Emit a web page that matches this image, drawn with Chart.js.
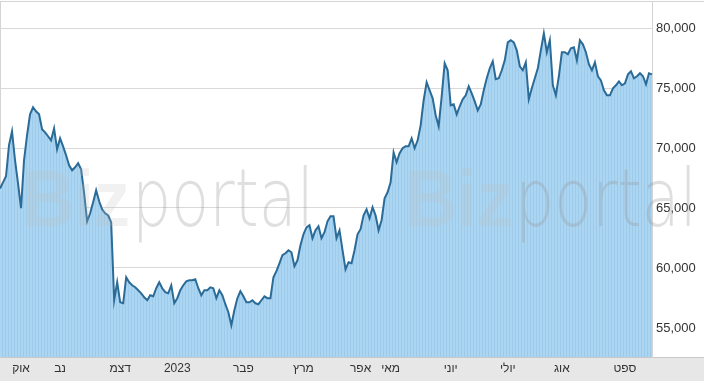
<!DOCTYPE html>
<html>
<head>
<meta charset="utf-8">
<script src="https://cdn.jsdelivr.net/npm/chart.js@4"></script>
<style>
  html, body { margin: 0; padding: 0; background: #fff; }
  #wrap { width: 704px; height: 384px; position: relative; }
</style>
</head>
<body>
<div id="wrap"><canvas id="chart" width="704" height="384"></canvas></div>
<script>
// daily closes, Oct 2022 - Sep 2023
const prices = [
  66620, 67140, 67640, 70230, 71390, 68980, 67060, 64980, 68980, 71060,
  72810, 73390, 73060, 72810, 71560, 71310, 70980, 70640, 71640, 69890,
  70810, 70140, 69390, 68560, 68140, 68390, 68730, 68230, 66230, 63890,
  64560, 65480, 66480, 65560, 64890, 64560, 64390, 63810, 57310, 58810,
  57140, 57060, 59230, 58810, 58560, 58390, 58140, 57890, 57560, 57310,
  57730, 57640, 58310, 58810, 58310, 57980, 57890, 58560, 57060, 57480,
  58140, 58560, 58890, 58980, 58980, 59060, 58310, 57730, 58140, 58140,
  58390, 58310, 57480, 58140, 57730, 56980, 56310, 55230, 56480, 57480,
  58060, 57640, 57140, 57140, 57310, 57060, 56980, 57310, 57640, 57480,
  57480, 59230, 59730, 60390, 61060, 61230, 61480, 61310, 60140, 60640,
  61890, 62810, 63390, 63560, 62480, 63140, 63480, 62480, 62980, 63890,
  64310, 64310, 62480, 63140, 61480, 59890, 60480, 60390, 61480, 62810,
  63230, 64390, 64890, 64140, 65060, 64390, 63140, 63980, 65810, 66310,
  67140, 69640, 68810, 69560, 69980, 70140, 70140, 70810, 69980, 70640,
  71890, 73980, 75480, 74810, 74140, 72730, 71810, 74310, 77060, 76480,
  73560, 73640, 72810, 73480, 74060, 74390, 75140, 74560, 73890, 73140,
  73640, 74810, 75810, 76640, 77230, 75730, 75810, 76480, 77310, 78810,
  78980, 78810, 78140, 76810, 76480, 77140, 74060, 74980, 75810, 76640,
  78140, 79560, 77980, 78980, 75230, 74390, 75980, 77980, 77980, 77810,
  78310, 78390, 77310, 78980, 78640, 77980, 76980, 76480, 77140, 75980,
  75640, 74810, 74390, 74390, 74980, 75230, 75560, 75230, 75390, 76140,
  76390, 75810, 75980, 76230, 75980, 75310, 76230, 76140
];
const days = prices.map((_, i) => i);

// month labels and the trading day they sit on
const monthNames = ['אוק', 'נב', 'דצמ', '2023', 'פבר', 'מרץ', 'אפר', 'מאי', 'יוני', 'יולי', 'אוג', 'ספט'];
const monthDays = [7, 20, 40, 59, 81, 101, 120, 130, 150, 169, 187, 208];

const yTicks = [55000, 60000, 65000, 70000, 75000, 80000];

// striped light blue fill
function stripeFill() {
  const c = document.createElement('canvas');
  c.width = 3; c.height = 4;
  const g = c.getContext('2d');
  g.fillStyle = '#acd5f1';
  g.fillRect(0, 0, 3, 4);
  g.fillStyle = '#9dcbec';
  g.fillRect(2, 0, 1, 4);
  return g.createPattern(c, 'repeat');
}

const frame = {
  id: 'frame',
  beforeDraw(chart) {
    const ctx = chart.ctx, a = chart.chartArea;
    ctx.save();
    ctx.fillStyle = '#e7e7e7';
    ctx.fillRect(0, a.bottom, chart.width, 24);
    ctx.fillStyle = '#c8c8c8';
    ctx.fillRect(0, a.bottom, chart.width, 1);
    ctx.fillStyle = '#d4d4d4';
    ctx.fillRect(0, 1, chart.width, 1);
    ctx.fillRect(0, 1, 1, a.bottom);
    ctx.fillRect(a.right, 1, 1, a.bottom);
    ctx.restore();
  },
  afterDatasetsDraw(chart) {
    const ctx = chart.ctx;
    ctx.save();
    ctx.textBaseline = 'alphabetic';
    [22, 405].forEach(x0 => {
      ctx.font = 'bold 80px "Liberation Sans", Arial, sans-serif';
      ctx.fillStyle = 'rgba(190,190,190,0.22)';
      ctx.fillText('Biz', x0, 226, 108);
      ctx.font = '200 80px "DejaVu Sans", sans-serif';
      ctx.fillStyle = 'rgba(150,150,150,0.3)';
      ctx.fillText('portal', x0 + 110, 226, 182);
    });
    ctx.restore();
  }
};

new Chart(document.getElementById('chart'), {
  type: 'line',
  data: {
    labels: days,
    datasets: [{
      data: prices,
      borderColor: '#2b6b98',
      borderWidth: 2,
      backgroundColor: stripeFill(),
      fill: 'start',
      pointRadius: 0,
      tension: 0
    }]
  },
  options: {
    responsive: false,
    animation: false,
    layout: { padding: { top: 2, left: 0, right: 0, bottom: 0 } },
    plugins: { legend: { display: false }, tooltip: { enabled: false } },
    scales: {
      x: {
        offset: false,
        grid: { display: false, drawTicks: false },
        border: { display: false },
        afterFit(s) { s.height = 27; s.paddingLeft = 0; s.paddingRight = 0; },
        ticks: {
          autoSkip: false,
          maxRotation: 0,
          padding: 4,
          color: '#333',
          font: { family: '"Liberation Sans", Arial, sans-serif', size: 12 },
          callback(v, i) {
            const k = monthDays.indexOf(i);
            return k >= 0 ? monthNames[k] : '';
          }
        }
      },
      y: {
        position: 'right',
        min: 52580,
        max: 82170,
        afterBuildTicks(s) { s.ticks = yTicks.map(v => ({ value: v })); },
        afterFit(s) { s.width = 52; s.paddingTop = 0; s.paddingBottom = 0; },
        border: { display: false },
        grid: {
          color: '#d9d9d9',
          lineWidth: 1,
          drawTicks: false,
          borderDash: [2, 2]
        },
        ticks: {
          padding: 4,
          color: '#333',
          font: { family: '"Liberation Sans", Arial, sans-serif', size: 13 },
          callback: v => v.toLocaleString('en-US')
        }
      }
    }
  },
  plugins: [frame]
});
</script>
</body>
</html>
